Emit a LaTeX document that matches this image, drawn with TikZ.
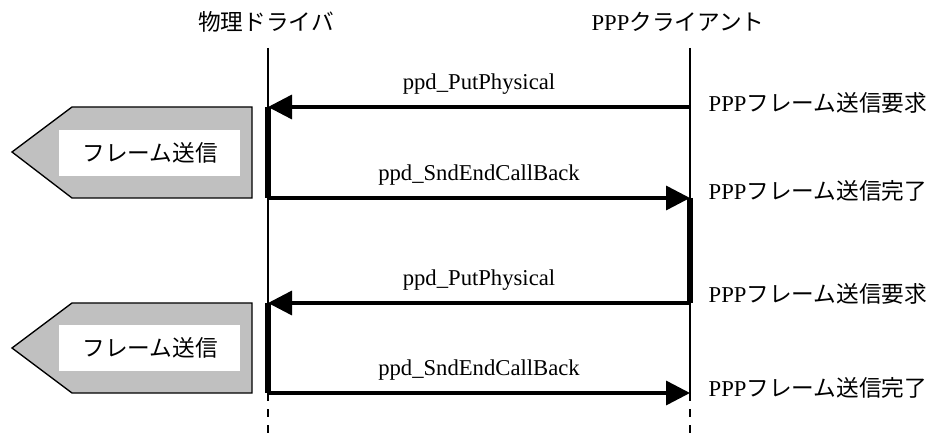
\documentclass[tikz,border=0pt]{standalone}
\usepackage{fontspec}
\setmainfont{Liberation Serif}
\newfontfamily\jp{Noto Sans CJK JP}
\usetikzlibrary{arrows.meta}
\definecolor{sendgray}{HTML}{C0C0C0}

\begin{document}
\begin{tikzpicture}[x=0.75pt,y=-0.75pt,font=\fontsize{17}{20}\selectfont,
  life/.style={line width=1.5pt},
  busy/.style={line width=4pt},
  msg/.style={line width=2.6pt,-{Triangle[length=18pt,width=18pt]}},
  tail/.style={line width=1.5pt,dash pattern=on 6pt off 6pt}]
  \useasboundingbox (0,0) rectangle (941,434);
  % headers
  \node (drv) at (266,22) {\jp 物理ドライバ};
  \node (cli) at (678,22) {PPP{\jp クライアント}};
  % points on the two lifelines
  \coordinate (d0) at (268,48);  \coordinate (c0) at (690,48);
  \coordinate (d1) at (268,107); \coordinate (c1) at (690,107);
  \coordinate (d2) at (268,198); \coordinate (c2) at (690,198);
  \coordinate (d3) at (268,303); \coordinate (c3) at (690,303);
  \coordinate (d4) at (268,393); \coordinate (c4) at (690,393);
  \coordinate (d5) at (268,434); \coordinate (c5) at (690,434);
  \draw[life] (d0) -- (d4);
  \draw[life] (c0) -- (c4);
  \draw[tail] (d4) -- (d5);
  \draw[tail] (c4) -- (c5);
  \draw[busy] (d1) -- (d2);
  \draw[busy] (c2) -- (c3);
  \draw[busy] (d3) -- (d4);
  % messages
  \draw[msg] (c1) -- node[above=5pt] (m1) {ppd\_PutPhysical} (d1);
  \draw[msg] (d2) -- node[above=5pt] (m2) {ppd\_SndEndCallBack} (c2);
  \draw[msg] (c3) -- node[above=5pt] (m3) {ppd\_PutPhysical} (d3);
  \draw[msg] (d4) -- node[above=5pt] (m4) {ppd\_SndEndCallBack} (c4);
  % client side notes
  \node[anchor=west] (n1) at (704,103) {PPP{\jp フレーム送信要求}};
  \node[anchor=west] (n2) at (704,191) {PPP{\jp フレーム送信完了}};
  \node[anchor=west] (n3) at (704,294) {PPP{\jp フレーム送信要求}};
  \node[anchor=west] (n4) at (704,388) {PPP{\jp フレーム送信完了}};
  % send blocks
  \draw[line width=1pt,fill=sendgray] (12,152) -- (72,107) -- (252,107) -- (252,198) -- (72,198) -- cycle;
  \fill[white] (59,130) rectangle (240,176);
  \node (s1) at (150,153) {\jp フレーム送信};
  \draw[line width=1pt,fill=sendgray] (12,348) -- (72,303) -- (252,303) -- (252,393) -- (72,393) -- cycle;
  \fill[white] (59,325) rectangle (240,371);
  \node (s2) at (150,348) {\jp フレーム送信};
\end{tikzpicture}
\end{document}
